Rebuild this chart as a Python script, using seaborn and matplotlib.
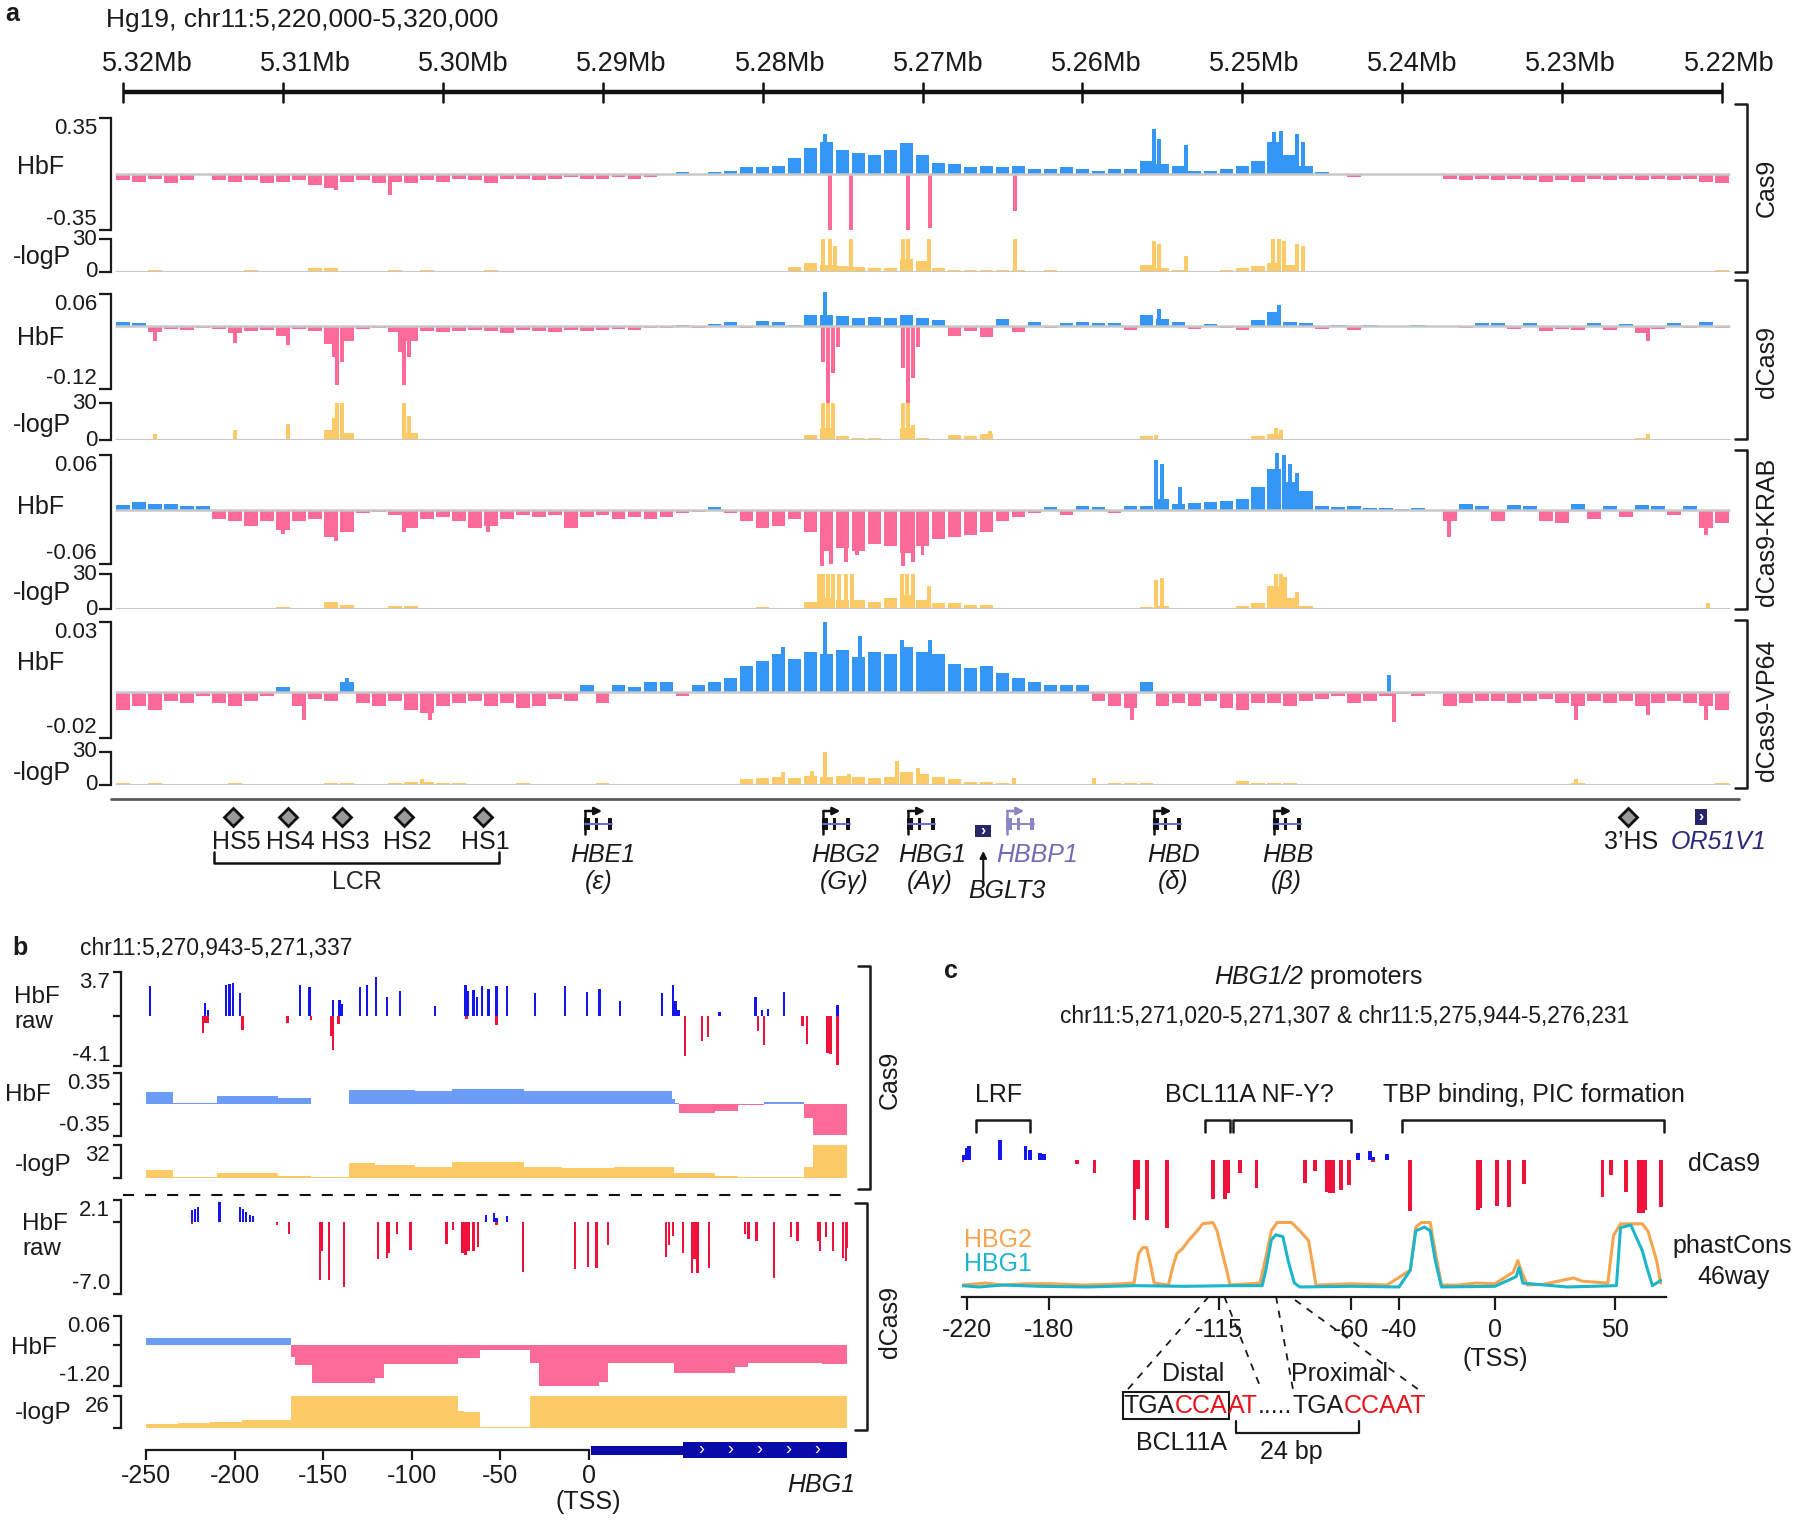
import numpy as np
import matplotlib
matplotlib.use("Agg")
import matplotlib.pyplot as plt
from matplotlib.patches import Rectangle
from matplotlib.transforms import blended_transform_factory
import seaborn as sns

# ---------------- panel a: 1 kb bins, first bin centred on 5.320 Mb ----------------
BIN_START_MB = 5.320
BIN_SIZE_MB = 0.001

cas9_hbf = [-0.04, -0.05, -0.03, -0.06, -0.04, -0.01, -0.04, -0.05, -0.04, -0.06,
            -0.05, -0.04, -0.07, -0.09, -0.05, -0.04, -0.06, -0.05, -0.06, -0.04,
            -0.05, -0.03, -0.04, -0.06, -0.03, -0.03, -0.04, -0.03, -0.02, -0.03,
            -0.03, -0.02, -0.03, -0.02, -0.01, 0.01, 0.0, 0.01, 0.02, 0.04,
            0.04, 0.05, 0.10, 0.16, 0.20, 0.15, 0.13, 0.12, 0.15, 0.19,
            0.12, 0.07, 0.06, 0.04, 0.05, 0.04, 0.05, 0.03, 0.03, 0.04,
            0.03, 0.02, 0.03, 0.03, 0.08, 0.06, 0.05, 0.02, 0.02, 0.03,
            0.05, 0.08, 0.20, 0.12, 0.05, 0.01, 0.0, -0.02, 0.0, 0.0,
            0.0, 0.0, 0.0, -0.03, -0.04, -0.03, -0.04, -0.03, -0.04, -0.05,
            -0.04, -0.05, -0.03, -0.04, -0.03, -0.04, -0.03, -0.04, -0.03, -0.05,
            -0.06]
cas9_hbf_spike_mb = [5.3067, 5.3033, 5.2761, 5.2758, 5.2745, 5.2709, 5.2695, 5.2642,
                     5.2555, 5.2552, 5.2535, 5.2480, 5.2476, 5.2466, 5.2462]
cas9_hbf_spike = [-0.10, -0.13, 0.25, -0.35, -0.35, -0.35, -0.34, -0.23,
                  0.28, 0.22, 0.18, 0.26, 0.27, 0.25, 0.20]
cas9_logp = [1, 0.5, 1.5, 0.5, 0.5, 0, 0.5, 1, 1.5, 1,
             0.5, 0.5, 3, 3.5, 1, 0.5, 1, 2, 1, 1.5,
             0.5, 0.5, 1, 2, 0.5, 0.5, 0.5, 0.5, 0, 0.5,
             0, 0.5, 0, 0, 0, 0, 0, 0, 0, 0.5,
             1, 1, 4, 8, 6, 5, 4, 3, 3, 12,
             10, 3, 2, 2, 2, 2, 1.5, 1, 1.5, 1,
             1, 1, 1, 1, 6, 3, 2, 1, 1, 1.5,
             3, 5, 8, 6, 1, 0.5, 0, 0, 0, 0,
             0, 0, 0, 0, 0, 0, 0, 0, 0, 0,
             1, 1, 0, 0, 0, 0, 0, 0, 0, 0.5,
             1.5]
cas9_logp_spike_mb = [5.2762, 5.2758, 5.2755, 5.2745, 5.2712, 5.2709, 5.2696, 5.2642,
                      5.2555, 5.2552, 5.2535, 5.2481, 5.2477, 5.2474, 5.2466, 5.2462]
cas9_logp_spike = [30, 30, 24, 30, 30, 30, 30, 30, 28, 26, 15, 30, 30, 28, 26, 24]

dcas9_hbf = [0.006, 0.005, -0.012, -0.006, -0.008, -0.004, -0.006, -0.015, -0.01, -0.008,
             -0.02, -0.006, -0.01, -0.035, -0.03, -0.006, -0.005, -0.012, -0.03, -0.01,
             -0.012, -0.01, -0.008, -0.01, -0.014, -0.008, -0.01, -0.012, -0.008, -0.01,
             -0.008, -0.006, -0.008, -0.005, -0.004, 0.002, -0.004, 0.003, 0.006, -0.004,
             0.008, 0.006, 0.002, 0.02, 0.02, 0.018, 0.015, 0.016, 0.014, 0.02,
             0.015, 0.01, -0.02, -0.01, -0.022, 0.012, -0.012, 0.006, -0.004, 0.004,
             0.006, 0.005, 0.004, -0.008, 0.02, 0.012, 0.006, -0.006, 0.003, -0.005,
             -0.008, 0.01, 0.025, 0.006, 0.004, -0.006, 0.002, -0.008, 0.002, -0.003,
             0.0, 0.002, 0.0, -0.003, -0.004, 0.004, 0.005, -0.006, 0.004, -0.01,
             -0.006, -0.008, 0.004, -0.008, 0.003, -0.015, -0.006, 0.004, -0.005, 0.006,
             -0.005]
dcas9_hbf_spike_mb = [5.3180, 5.3130, 5.3097, 5.3068, 5.3066, 5.3063, 5.3027, 5.3024, 5.3021,
                      5.2762, 5.2761, 5.2759, 5.2756, 5.2753, 5.2712, 5.2709, 5.2706, 5.2703,
                      5.2552, 5.2477, 5.2246]
dcas9_hbf_spike = [-0.03, -0.034, -0.037, -0.06, -0.113, -0.07, -0.05, -0.113, -0.06,
                   -0.07, 0.063, -0.155, -0.09, -0.04, -0.08, -0.155, -0.10, -0.04,
                   0.032, 0.039, -0.03]
dcas9_logp = [0.5, 0.5, 1, 0.5, 0.5, 0, 0.5, 1, 0.5, 0.5,
              1, 0.5, 0.5, 8, 6, 0.5, 0.5, 1, 6, 0.5,
              0.5, 0.5, 0.5, 0.5, 1, 0.5, 0.5, 1, 0.5, 0.5,
              0.5, 0.5, 0.5, 0, 0, 0, 0, 0, 0, 0,
              0, 0, 0, 4, 10, 3, 2, 2, 1, 10,
              2, 1, 4, 3, 5, 0.5, 1, 0.5, 0, 0,
              0, 0, 0, 1, 3, 1, 0.5, 0, 0, 0.5,
              0.5, 3, 5, 1, 0.5, 0, 0, 0, 0, 0,
              0, 0, 0, 0, 0, 0, 0, 0, 0, 0,
              0, 0, 0, 0, 0, 2, 0, 0, 0, 1,
              0]
dcas9_logp_spike_mb = [5.3180, 5.3130, 5.3097, 5.3068, 5.3066, 5.3063, 5.3024, 5.3021,
                       5.2762, 5.2759, 5.2756, 5.2712, 5.2709, 5.2706, 5.2658, 5.2554,
                       5.2479, 5.2476, 5.2246]
dcas9_logp_spike = [5, 8, 13, 18, 30, 30, 30, 20, 30, 30, 30, 30, 30, 12, 7, 4, 10, 8, 5]

krab_hbf = [0.005, 0.008, 0.006, 0.006, 0.004, 0.004, -0.01, -0.012, -0.018, -0.012,
            -0.022, -0.012, -0.01, -0.03, -0.025, -0.004, -0.003, -0.006, -0.02, -0.01,
            -0.008, -0.012, -0.02, -0.018, -0.01, -0.006, -0.008, -0.006, -0.02, -0.008,
            -0.006, -0.01, -0.008, -0.01, -0.008, -0.004, -0.003, 0.003, -0.004, -0.012,
            -0.02, -0.018, -0.01, -0.025, -0.045, -0.042, -0.045, -0.038, -0.04, -0.048,
            -0.04, -0.032, -0.03, -0.028, -0.025, -0.012, -0.008, -0.004, 0.003, -0.006,
            0.004, 0.003, -0.004, 0.004, 0.004, 0.012, 0.006, 0.007, 0.008, 0.01,
            0.012, 0.025, 0.045, 0.03, 0.02, 0.004, 0.003, 0.004, 0.002, 0.002,
            0.001, 0.002, 0.0, -0.012, 0.006, 0.004, -0.012, 0.005, 0.004, -0.012,
            -0.015, 0.006, -0.01, 0.004, -0.008, 0.005, 0.004, -0.006, 0.004, -0.02,
            -0.015]
krab_hbf_spike_mb = [5.3100, 5.3067, 5.3024, 5.2972, 5.2763, 5.2757, 5.2748, 5.2741,
                     5.2712, 5.2706, 5.2700, 5.2554, 5.2550, 5.2539, 5.2478, 5.2474,
                     5.2470, 5.2466, 5.2371, 5.2210]
krab_hbf_spike = [-0.027, -0.034, -0.025, -0.025, -0.062, -0.06, -0.058, -0.05,
                  -0.062, -0.058, -0.05, 0.055, 0.05, 0.025, 0.062, 0.06,
                  0.05, 0.04, -0.03, -0.028]
krab_logp = [0.5, 0.5, 0.5, 0.5, 0.5, 0, 0.5, 1, 0.5, 0.5,
             2, 0.5, 0.5, 6, 4, 0.5, 0.5, 3, 3, 0.5,
             0.5, 1, 1.5, 1, 0.5, 0.5, 0.5, 0.5, 0.5, 0.5,
             0.5, 0.5, 0.5, 0.5, 0.5, 0, 0, 0, 0, 0.5,
             2, 1.5, 1, 6, 10, 8, 8, 6, 10, 12,
             8, 5, 5, 4, 4, 1, 0.5, 0, 0, 0,
             0, 0, 0, 0, 2, 3, 1.5, 0, 0, 0,
             3, 5, 20, 10, 3, 0, 0, 0, 0, 0,
             0, 0, 0, 0, 0, 0, 0, 0, 0, 0,
             1, 0, 0, 1, 0, 0, 0, 0, 0, 1,
             0.5]
krab_logp_spike_mb = [5.2765, 5.2762, 5.2759, 5.2756, 5.2752, 5.2748, 5.2744, 5.2713,
                      5.2710, 5.2706, 5.2696, 5.2554, 5.2550, 5.2479, 5.2476, 5.2473,
                      5.2466, 5.2209]
krab_logp_spike = [30, 30, 30, 30, 30, 30, 30, 30, 30, 30, 20, 25, 27, 30, 30, 28, 15, 5]

vp64_hbf = [-0.008, -0.006, -0.008, -0.004, -0.005, -0.002, -0.005, -0.006, -0.004, -0.002,
            0.002, -0.006, -0.003, -0.004, 0.004, -0.005, -0.006, -0.004, -0.008, -0.009,
            -0.006, -0.005, -0.004, -0.006, -0.005, -0.007, -0.006, -0.003, -0.004, 0.003,
            -0.005, 0.003, 0.002, 0.004, 0.004, -0.002, 0.003, 0.004, 0.006, 0.011,
            0.013, 0.016, 0.014, 0.017, 0.016, 0.018, 0.015, 0.017, 0.016, 0.019,
            0.017, 0.016, 0.012, 0.010, 0.011, 0.008, 0.006, 0.004, 0.003, 0.003,
            0.003, -0.004, -0.006, -0.007, 0.004, -0.006, -0.005, -0.006, -0.004, -0.007,
            -0.008, -0.005, -0.005, -0.006, -0.004, -0.003, -0.002, -0.005, -0.004, -0.002,
            -0.001, -0.002, 0.0, -0.006, -0.005, -0.004, -0.004, -0.005, -0.004, -0.003,
            -0.005, -0.006, -0.004, -0.005, -0.004, -0.006, -0.005, -0.004, -0.005, -0.006,
            -0.008]
vp64_hbf_spike_mb = [5.3087, 5.3060, 5.3008, 5.2787, 5.2761, 5.2739, 5.2713, 5.2695,
                     5.2569, 5.2408, 5.2405, 5.2291, 5.2246, 5.2210]
vp64_hbf_spike = [-0.012, 0.006, -0.012, 0.019, 0.030, 0.024, 0.022, 0.022,
                  -0.012, 0.007, -0.013, -0.012, -0.010, -0.012]
vp64_logp = [1.5, 1, 1.5, 1, 1, 0.5, 1, 1.5, 1, 0.5,
             0.5, 1, 0.5, 1.5, 1.5, 0.5, 1, 2, 2.5, 3,
             2, 1.5, 1, 0.5, 0.5, 2, 1, 0.5, 0.5, 0.5,
             1.5, 1, 0.5, 0.5, 0.5, 0, 0, 0, 0, 5,
             6, 7, 6, 8, 7, 8, 7, 6, 7, 12,
             10, 7, 5, 3, 3, 2, 1, 1, 0, 0,
             0, 1, 2, 2, 2, 0.5, 0.5, 1, 1, 1,
             4, 2, 2, 2, 1, 0, 0, 0, 0, 0,
             0, 0, 0, 0, 0.5, 0.5, 0.5, 0.5, 0.5, 0.5,
             1, 2, 0.5, 0.5, 0.5, 0.5, 0.5, 0.5, 0.5, 1,
             2]
vp64_logp_spike_mb = [5.3013, 5.2787, 5.2769, 5.2761, 5.2746, 5.2716, 5.2703, 5.2643, 5.2593, 5.2291]
vp64_logp_spike = [5, 12, 13, 33, 10, 22, 15, 6, 6, 5]

ruler_ticks_mb = [5.32, 5.31, 5.30, 5.29, 5.28, 5.27, 5.26, 5.25, 5.24, 5.23, 5.22]
gene_names = ['HBE1', 'HBG2', 'HBG1', 'HBBP1', 'HBD', 'HBB']
gene_tss_mb = [5.2911, 5.2762, 5.2709, 5.2647, 5.2555, 5.2480]
gene_greek = ['(ε)', '(Gγ)', '(Aγ)', '', '(δ)', '(β)']
hs_names = ['HS5', 'HS4', 'HS3', 'HS2', 'HS1', '3’HS']
hs_mb = [5.3131, 5.3097, 5.3063, 5.3024, 5.2975, 5.2259]
lcr_mb = [5.3143, 5.2965]
bglt3_mb = 5.2662
or51v1_mb = 5.2213

# ---------------- panel b: bp relative to HBG1 TSS ----------------
cas9_raw_pos = [-247.7, -216.8, -215.1, -205, -203, -201, -196.9, -163, -157.8, -144.7,
                -140.8, -139.8, -129.4, -125.5, -120.3, -114.1, -106.6, -87, -69.8, -68.4,
                -65.2, -63.2, -60.6, -56.7, -52.2, -46.3, -30.6, -13.7, -1.3, 5.9,
                17.3, 41.1, 47.6, 48.9, 50.5, 73.7, 93.9, 97.8, 101, 110.2, 140.2,
                -217.8, -216.5, -215.1, -195.6, -170.2, -157.1, -145.7, -144.7, -141.5, -69.1,
                -52.2, 54.1, 63.9, 67.1, 95.5, 98.8, 120.6, 123.2, 134.6, 136.3, 140.2]
cas9_raw_val = [2.5, 1.1, 0.5, 2.6, 2.7, 2.8, 1.9, 2.6, 2.4, 1.4,
                1.4, 1.0, 2.4, 2.6, 3.3, 1.6, 2.1, 0.85, 2.6, 2.1,
                2.2, 1.6, 2.5, 2.3, 2.5, 2.5, 1.9, 2.5, 2.0, 2.3,
                1.3, 1.9, 2.6, 1.3, 0.55, 0.4, 1.6, 0.5, 0.65, 2.0, 0.95,
                -1.35, -0.55, -0.55, -1.1, -0.55, -0.3, -1.6, -2.8, -0.6, -0.2,
                -0.75, -3.3, -2.0, -1.7, -1.2, -2.4, -0.8, -2.3, -3.0, -3.1, -4.0]
cas9_seg_start = [-250, -235, -210, -175.6, -135.3, -98.4, -77.2, -36.5, 46.6, 48.5, 50.8, 71, 84, 98.8, 121.6, 126.5]
cas9_seg_end = [-235, -210, -175.6, -157, -98.4, -77.2, -36.5, 46.6, 48.5, 50.8, 71, 84, 98.8, 121.6, 126.5, 145.5]
cas9_seg_hbf = [0.134, 0.018, 0.097, 0.072, 0.162, 0.148, 0.17, 0.148, 0.06, 0.02, -0.097, -0.072, -0.007, 0.029, -0.15, -0.336]
cas9_lp_start = [-250, -235, -210, -175.6, -157, -135.3, -121, -98.4, -77.2, -36.5, -15.3, 14, 48.2, 71, 84, 121.6, 126.5]
cas9_lp_end = [-235, -210, -175.6, -157, -135.3, -121, -98.4, -77.2, -36.5, -15.3, 14, 48.2, 71, 84, 121.6, 126.5, 145.5]
cas9_lp_val = [8, 1.6, 4.8, 2.2, 1.0, 14.4, 12.8, 11.2, 16, 10.5, 9.6, 11.2, 5.4, 2.2, 1.0, 11, 32]

dcas9_raw_pos = [-224, -222.4, -220.7, -208.6, -196.9, -195.2, -193.6, -191.3, -189.7, -58.3,
                 -53.5, -52.2, -46.3,
                 -224, -176, -169.2, -151.9, -150.6, -146.7, -138.2, -119.3, -114.1, -112.8,
                 -108.2, -100.7, -80.5, -76.6, -71.4, -69.8, -68.1, -65.2, -62.6, -52.2,
                 -37.2, -8.1, -0.7, 4.2, 10.8, 43.4, 45, 47.6, 53.1, 58,
                 59.6, 61.3, 67.8, 88, 90, 94.5, 104.3, 114.1, 117.7, 129.1,
                 130.4, 133.6, 137.9, 143.4, 145, 145.8]
dcas9_raw_val = [1.1, 1.25, 1.4, 1.9, 1.45, 1.2, 0.9, 0.7, 0.55, 0.7,
                 0.8, 0.4, 0.55,
                 -0.2, -0.35, -1.2, -5.6, -2.8, -5.6, -6.3, -3.6, -3.5, -3.0,
                 -1.2, -2.7, -2.1, -0.75, -3.0, -3.2, -2.8, -2.8, -2.4, -0.35,
                 -4.8, -4.6, -4.35, -4.45, -2.2, -3.4, -2.2, -1.4, -3.0, -4.9,
                 -3.6, -4.9, -4.45, -1.2, -1.7, -1.9, -5.4, -1.5, -1.9, -1.9,
                 -2.8, -1.5, -2.8, -3.5, -3.8, -2.5]
dcas9_seg_start = [-250, -168.5, -166.2, -156.1, -120.6, -115.7, -74, -61.6, -33.2, -28.4, 5.9, 10.8, 48.2, 82.5, 90, 131.4]
dcas9_seg_end = [-168.5, -166.2, -156.1, -120.6, -115.7, -74, -61.6, -33.2, -28.4, 5.9, 10.8, 48.2, 82.5, 90, 131.4, 145.5]
dcas9_seg_hbf = [0.2, -0.34, -0.59, -1.10, -0.98, -0.57, -0.37, -0.15, -0.54, -1.20, -1.07, -0.54, -0.81, -0.65, -0.54, -0.57]
dcas9_lp_start = [-250, -232, -214, -196, -168.5, -74, -70.7, -61.6, -33.2]
dcas9_lp_end = [-232, -214, -196, -168.5, -74, -70.7, -61.6, -33.2, 145.5]
dcas9_lp_val = [3.2, 4.3, 5.4, 6.8, 26, 14, 12.9, 0.8, 26]
hbg1_chevron_bp = [63.6, 79.9, 96.2, 112.5, 128.8]

# ---------------- panel c ----------------
c_raw_pos = [-221.4, -220.2, -219, -206.4, -195.6, -193.7, -189.6, -188, -57, -52.2, -51, -45,
             -222, -174.1, -166.9, -150.2, -148.7, -144.9, -136.8, -117.4, -112.6, -111.4,
             -106.4, -99.4, -79, -75, -70, -68.8, -67.6, -64, -60.7, -51,
             -35.4, -7.2, -6.2, 1, 5.8, 12, 44.8, 48.4, 54.6, 59.9, 61.8, 62.7, 69.2]
c_raw_val = [0.46, 1.2, 1.4, 2.0, 1.4, 1.0, 0.65, 0.55, 0.65, 0.85, 0.27, 0.55,
             -0.2, -0.4, -1.3, -6.1, -3.0, -6.1, -6.9, -4.0, -4.0, -3.4,
             -1.3, -2.9, -2.3, -1.1, -3.3, -3.4, -3.4, -3.1, -2.6, -0.25,
             -5.2, -5.1, -4.9, -4.7, -4.8, -2.4, -3.8, -1.5, -3.3, -5.4, -5.4, -5.1, -4.8]
hbg2_x = [-222.3, -212, -205, -195, -185, -172, -160, -150.4, -148.5, -146.8, -145.1, -143.2, -142,
          -136.1, -134.2, -132.5, -130.1, -127.7, -124.1, -121.8, -117.5, -115.8, -114.1, -111.8,
          -110.4, -97.9, -95.5, -93.2, -90.8, -84.8, -81.3, -77.7, -76, -74.6, -60, -45, -35.3,
          -33, -30.6, -27, -24.7, -22.3, -15, -8, 0, 7.6, 9.5, 11.1, 13.5, 20, 32.7, 36.3, 47,
          49.4, 52.3, 61.4, 63.8, 67.4, 69]
hbg2_y = [0.03, 0.06, 0.03, 0.05, 0.05, 0.03, 0.04, 0.06, 0.52, 0.61, 0.61, 0.29, 0.06,
          0.03, 0.32, 0.52, 0.6, 0.72, 0.87, 0.98, 1.0, 0.87, 0.6, 0.26,
          0.03, 0.06, 0.46, 0.87, 1.0, 1.0, 0.87, 0.72, 0.35, 0.03, 0.05, 0.03, 0.26,
          0.93, 1.0, 1.0, 0.5, 0.03, 0.03, 0.06, 0.05, 0.23, 0.41, 0.23, 0.03, 0.04, 0.14, 0.09, 0.06,
          0.8, 0.98, 0.98, 0.86, 0.4, 0.06]
hbg1_x = [-222.3, -215, -205, -190, -170, -150, -130, -110, -97, -95.5, -93.2, -91.3, -88.4,
          -86, -83.6, -81.3, -60, -40, -35.3, -33, -29.4, -27, -24.7, -22.3, 0, 8.8, 10,
          11.6, 30, 50.6, 52.3, 56.6, 58.5, 61.4, 63.3, 65.6, 69]
hbg1_y = [0.02, 0.0, 0.03, 0.01, 0.0, 0.02, 0.01, 0.02, 0.02, 0.26, 0.73, 0.81, 0.78,
          0.38, 0.06, 0.0, 0.01, 0.0, 0.26, 0.87, 0.93, 0.87, 0.38, 0.0, 0.01, 0.16, 0.3,
          0.06, 0.0, 0.02, 0.92, 0.96, 0.8, 0.56, 0.3, 0.02, 0.1]
c_tick_pos = [-220, -186, -115, -60, -40, 0, 50]
c_tick_lab = ['-220', '-180', '-115', '-60', '-40', '0', '50']
motif_names = ['LRF', 'BCL11A', 'NF-Y?', 'TBP']
motif_start = [-216.3, -120.7, -109.3, -38.6]
motif_end = [-193.6, -110.5, -60.2, 70.5]

BLUE, PINK, GOLD = '#3597f5', '#fc6b97', '#fdca68'
RAW_BLUE, RAW_RED = '#1414ee', '#f0123a'
SMB_BLUE = '#6b9cf6'
INK = '#1a1a1a'

sns.set_theme(style='white')
plt.rcParams['font.family'] = ['Liberation Sans', 'DejaVu Sans']

W, H = 1800, 1523
fig = plt.figure(figsize=(W / 100, H / 100), dpi=100)
ann = fig.add_axes([0, 0, 1, 1], zorder=10)
ann.set_xlim(0, W)
ann.set_ylim(H, 0)
ann.set_autoscale_on(False)
ann.axis('off')
ann.patch.set_alpha(0)


def px_axes(x0, y0, x1, y1):
    ax = fig.add_axes([x0 / W, 1 - y1 / H, (x1 - x0) / W, (y1 - y0) / H])
    ax.patch.set_alpha(0)
    for s in ax.spines.values():
        s.set_visible(False)
    ax.set_xticks([])
    ax.set_yticks([])
    ax.grid(False)
    return ax


def bracket(ax, ticks, labels, size=16, length=8.5, pad=1.5, vas=None):
    ax.spines['left'].set_visible(True)
    ax.spines['left'].set_linewidth(1.6)
    ax.spines['left'].set_color(INK)
    ax.set_yticks(ticks)
    labs = ax.set_yticklabels(labels, fontsize=size)
    ax.tick_params(axis='y', left=True, direction='out', length=length, width=1.6,
                   pad=pad, color=INK, labelcolor=INK)
    if vas is None:
        vas = ['top'] + ['center'] * (len(ticks) - 2) + ['bottom']
    for lab, va in zip(labs, vas):
        lab.set_verticalalignment(va)


def txt(x, y, s, size=18, **kw):
    kw.setdefault('ha', 'center')
    kw.setdefault('va', 'center')
    kw.setdefault('color', INK)
    return ann.text(x, y, s, fontsize=size, **kw)


def right_bracket(x, top, bot, label, xl, yl):
    ann.plot([x - 12, x, x, x - 12], [top, top, bot, bot], color=INK, lw=1.8)
    txt(xl, yl, label, rotation=90)


# ======================= panel a =======================
MB_PX = 15990.0                       # pixels per Mb on the figure
XL_A = (5.32 + (123 - 111) / MB_PX, 5.22 - (1735 - 1722) / MB_PX)
bin_mb = BIN_START_MB - BIN_SIZE_MB * np.arange(len(cas9_hbf))
SPIKE_W = 0.00025


def hbf_track(box, vals, smb, sval, lo, hi, labs):
    ax = px_axes(111, box[0], 1735, box[1])
    v = np.asarray(vals)
    ax.bar(bin_mb, v, width=BIN_SIZE_MB * 0.85, color=np.where(v >= 0, BLUE, PINK),
           linewidth=0, clip_on=False)
    s = np.asarray(sval)
    ax.bar(smb, s, width=SPIKE_W, color=np.where(s >= 0, BLUE, PINK), linewidth=0, clip_on=False)
    ax.hlines(0, BIN_START_MB + 0.0005, BIN_START_MB - 0.1005, color='#c8c8c8', lw=1.8, zorder=3)
    ax.set_xlim(XL_A)
    bracket(ax, [hi, lo], labs, length=9, pad=1)
    ax.set_ylim(lo, hi)
    return ax


def logp_track(box, vals, smb, sval):
    ax = px_axes(111, box[0], 1735, box[1])
    ax.bar(bin_mb, vals, width=BIN_SIZE_MB * 0.85, color=GOLD, linewidth=0)
    ax.bar(smb, sval, width=SPIKE_W, color=GOLD, linewidth=0)
    ax.hlines(0, BIN_START_MB + 0.0005, BIN_START_MB - 0.1005, color='#c8c8c8', lw=2.2, zorder=3)
    ax.set_xlim(XL_A)
    bracket(ax, [30, 0], ['30', '0'], length=9, pad=1, vas=['center', 'center'])
    ax.set_ylim(0, 30)
    return ax


ax_a = hbf_track((117.7, 230), cas9_hbf, cas9_hbf_spike_mb, cas9_hbf_spike, -0.35, 0.35, ['0.35', '-0.35'])
logp_track((239.3, 271.7), cas9_logp, cas9_logp_spike_mb, cas9_logp_spike)
hbf_track((294, 388.7), dcas9_hbf, dcas9_hbf_spike_mb, dcas9_hbf_spike, -0.12, 0.06, ['0.06', '-0.12'])
logp_track((403.3, 440), dcas9_logp, dcas9_logp_spike_mb, dcas9_logp_spike)
hbf_track((455, 564.3), krab_hbf, krab_hbf_spike_mb, krab_hbf_spike, -0.06, 0.06, ['0.06', '-0.06'])
logp_track((574.3, 609.3), krab_logp, krab_logp_spike_mb, krab_logp_spike)
hbf_track((621.7, 738.3), vp64_hbf, vp64_hbf_spike_mb, vp64_hbf_spike, -0.02, 0.03, ['0.03', '-0.02'])
logp_track((751.7, 785), vp64_logp, vp64_logp_spike_mb, vp64_logp_spike)

for y in [166.7, 338.3, 506.7, 663.3]:
    txt(41, y, 'HbF')
for y in [256.7, 425, 593.3, 773.3]:
    txt(42, y, '-logP')

right_bracket(1746.7, 104.3, 271.7, 'Cas9', 1767, 188)
right_bracket(1746.7, 280, 439.3, 'dCas9', 1767, 361.7)
right_bracket(1746.7, 450, 609.3, 'dCas9-KRAB', 1767, 531.7)
right_bracket(1746.7, 620, 787.7, 'dCas9-VP64', 1767, 710)

txt(12, 14, 'a', weight='bold')
txt(106, 20, 'Hg19, chr11:5,220,000-5,320,000', size=19, ha='left')

bt = blended_transform_factory(ax_a.transData, ann.transData)
ann.plot([ruler_ticks_mb[0], ruler_ticks_mb[-1]], [92.3, 92.3], color='#111', lw=3.2,
         transform=bt, solid_capstyle='butt')
for k, m in enumerate(ruler_ticks_mb):
    ann.plot([m, m], [83, 102], color='#111', lw=1.8, transform=bt)
    # labels sit a little right of their ticks, drifting slightly across the ruler
    ann.text(m - (24 - 1.7 * k) / MB_PX, 64, f'{m:.2f}Mb', transform=bt, ha='center',
             va='center', fontsize=19.5, color=INK)

ann.plot([111, 1739], [799, 799], color='#5a5a5a', lw=2)


def mbx(mb, dx):
    return mb - dx / MB_PX


gene_lab_dx = [18, 22, 24, 30, 19, 14]
greek_dx = [14, 21, 22, 0, 19, 12]
for name, tss, grk, ldx, gdx in zip(gene_names, gene_tss_mb, gene_greek, gene_lab_dx, greek_dx):
    col = '#8a86c8' if name == 'HBBP1' else '#111'
    body = '#8a86c8' if name == 'HBBP1' else '#6a6ad8'
    ann.plot([tss, tss], [834, 811], color=col, lw=1.8, transform=bt)
    ann.annotate('', xy=(mbx(tss, 17), 811), xytext=(tss, 811), xycoords=bt, textcoords=bt,
                 arrowprops=dict(arrowstyle='-|>', color=col, lw=1.8, mutation_scale=11,
                                 shrinkA=0, shrinkB=0))
    ann.plot([tss, mbx(tss, 27)], [824, 824], color=body, lw=1.4, transform=bt)
    for off, w in [(-1, 6), (10, 3), (23, 4)]:
        ann.add_patch(Rectangle((mbx(tss, off), 818), -w / MB_PX, 12, transform=bt,
                                color=col, lw=0))
    ann.text(mbx(tss, ldx), 855, name, transform=bt, ha='center', va='center', fontsize=18,
             style='italic', color=('#6f6bb5' if name == 'HBBP1' else INK))
    if grk:
        ann.text(mbx(tss, gdx), 882, grk, transform=bt, ha='center', va='center', fontsize=18,
                 style='italic', color=INK)

for name, m in zip(hs_names, hs_mb):
    ann.plot([m], [817], marker='D', ms=9, mfc='#9a9a9a', mec='#111', mew=2, transform=bt)
    ann.text(mbx(m, 3), 842, name, transform=bt, ha='center', va='center', fontsize=18, color=INK)
ann.plot([lcr_mb[0], lcr_mb[0], lcr_mb[1], lcr_mb[1]], [852, 863, 863, 852], color='#111', lw=1.8,
         transform=bt)
ann.text((lcr_mb[0] + lcr_mb[1]) / 2, 882, 'LCR', transform=bt, ha='center', va='center', fontsize=18)

ann.add_patch(Rectangle((mbx(bglt3_mb, -8), 825), -16 / MB_PX, 12, transform=bt, color='#27266b', lw=0))
ann.text(bglt3_mb, 830.5, '›', transform=bt, ha='center', va='center', fontsize=11, color='white',
         weight='bold')
ann.annotate('', xy=(bglt3_mb, 851), xytext=(bglt3_mb, 885), xycoords=bt, textcoords=bt,
             arrowprops=dict(arrowstyle='-|>', color='#111', lw=1.5, mutation_scale=10, shrinkA=0, shrinkB=0))
ann.text(mbx(bglt3_mb, 24), 891, 'BGLT3', transform=bt, ha='center', va='center', fontsize=18,
         style='italic', color=INK)
ann.add_patch(Rectangle((mbx(or51v1_mb, -6), 809), -12 / MB_PX, 16, transform=bt, color='#27266b', lw=0))
ann.text(or51v1_mb, 816.5, '›', transform=bt, ha='center', va='center', fontsize=11, color='white',
         weight='bold')
ann.text(mbx(or51v1_mb, 17), 842, 'OR51V1', transform=bt, ha='center', va='center', fontsize=18,
         style='italic', color='#2b2a78')

# ======================= panel b =======================
XL_B = (-264.2, 146.2)


def raw_bars(ax, pos, val, width):
    v = np.asarray(val)
    ax.bar(pos, v, width=width, color=np.where(v >= 0, RAW_BLUE, RAW_RED), linewidth=0)


def seg_bars(ax, s, e, v, pos_c, neg_c):
    s, e, v = np.asarray(s), np.asarray(e), np.asarray(v)
    ax.bar(s, v, width=e - s, align='edge', color=np.where(v >= 0, pos_c, neg_c), linewidth=0)


b1 = px_axes(121, 971.7, 848, 1066)
raw_bars(b1, cas9_raw_pos, cas9_raw_val, 1.3)
b1.set_xlim(XL_B)
bracket(b1, [3.7, 0, -4.1], ['3.7', '', '-4.1'], length=6, pad=2)
b1.set_ylim(-4.1, 3.7)

b2 = px_axes(121, 1072.7, 848, 1136)
seg_bars(b2, cas9_seg_start, cas9_seg_end, cas9_seg_hbf, SMB_BLUE, PINK)
b2.set_xlim(XL_B)
bracket(b2, [0.35, 0, -0.35], ['0.35', '', '-0.35'], length=6, pad=2)
b2.set_ylim(-0.35, 0.35)

b3 = px_axes(121, 1145, 848, 1178.3)
seg_bars(b3, cas9_lp_start, cas9_lp_end, cas9_lp_val, GOLD, GOLD)
b3.set_xlim(XL_B)
bracket(b3, [32, 0], ['32', ''], length=6, pad=2)
b3.set_ylim(0, 32)

b4 = px_axes(121, 1200, 848, 1294.3)
raw_bars(b4, dcas9_raw_pos, dcas9_raw_val, 1.3)
b4.set_xlim(XL_B)
bracket(b4, [2.1, 0, -7.0], ['2.1', '', '-7.0'], length=6, pad=2)
b4.set_ylim(-7.0, 2.1)

b5 = px_axes(121, 1316, 848, 1386)
seg_bars(b5, dcas9_seg_start, dcas9_seg_end, dcas9_seg_hbf, SMB_BLUE, PINK)
b5.set_xlim(XL_B)
bracket(b5, [0.85, 0, -1.2], ['0.06', '', '-1.20'], length=6, pad=2)
b5.set_ylim(-1.2, 0.85)

b6 = px_axes(121, 1396, 848, 1428.3)
seg_bars(b6, dcas9_lp_start, dcas9_lp_end, dcas9_lp_val, GOLD, GOLD)
b6.set_xlim(XL_B)
bracket(b6, [26, 0], ['26', ''], length=6, pad=2)
b6.set_ylim(0, 26)

bg = px_axes(121, 1436, 848, 1462)
bg.set_xlim(XL_B)
bg.set_ylim(1462, 1436)
bg.spines['bottom'].set_visible(True)
bg.spines['bottom'].set_position(('data', 1450))
bg.spines['bottom'].set_bounds(-250, 0)
bg.spines['bottom'].set_linewidth(1.6)
bg.spines['bottom'].set_color(INK)
bg.set_xticks([-250, -200, -150, -100, -50, 0])
bg.set_xticklabels(['-250', '-200', '-150', '-100', '-50', '0'], fontsize=18)
bg.tick_params(axis='x', bottom=True, direction='out', length=7, width=1.6, pad=3, color=INK,
               labelcolor=INK)
bg.add_patch(Rectangle((1.0, 1445.7), 52.2, 9.3, color='#0a0aa8', lw=0))
bg.add_patch(Rectangle((53.2, 1442.3), 92.2, 16, color='#0a0aa8', lw=0))
for c in hbg1_chevron_bp:
    bg.text(c, 1450, '›', color='white', ha='center', va='center', fontsize=13)

for (x, y, s) in [(37, 997, 'HbF'), (34, 1022, 'raw'), (28, 1095, 'HbF'), (43, 1165, '-logP'),
                  (45, 1224, 'HbF'), (42, 1249, 'raw'), (34, 1348.3, 'HbF'), (43, 1413, '-logP')]:
    txt(x, y, s, size=17.5)
right_bracket(869.7, 966, 1189.3, 'Cas9', 890, 1080)
right_bracket(866.8, 1202.7, 1430, 'dCas9', 890, 1322)
ann.plot([123, 850], [1195, 1195], color='#111', lw=1.5, ls=(0, (5.3, 5.3)))
txt(20, 948, 'b', weight='bold')
txt(80, 948, 'chr11:5,270,943-5,271,337', size=16.5, ha='left')
txt(588, 1502, '(TSS)')
txt(821, 1485, 'HBG1', style='italic')

# ======================= panel c =======================
XC = ((962 - 1495) / 2.4, (1666 - 1495) / 2.4)
c1 = px_axes(962, 1139, 1666, 1229)
raw_bars(c1, c_raw_pos, c_raw_val, 1.6)
c1.set_xlim(XC)
c1.set_ylim(-7.0, 2.1)

c2 = px_axes(962, 1219, 1666, 1296.5)
sns.lineplot(x=hbg2_x, y=hbg2_y, ax=c2, color='#f5a54f', lw=2.2, sort=False, estimator=None)
sns.lineplot(x=hbg1_x, y=hbg1_y, ax=c2, color='#1cb5c9', lw=2.2, sort=False, estimator=None)
c2.set_xlim(XC)
c2.set_ylim(-0.148, 1.054)
c2.spines['bottom'].set_visible(True)
c2.spines['bottom'].set_linewidth(1.6)
c2.spines['bottom'].set_color(INK)
c2.set_xticks(c_tick_pos)
c2.set_xticklabels(c_tick_lab, fontsize=18)
c2.tick_params(axis='x', bottom=True, direction='out', length=9.5, width=1.6, pad=6, color=INK,
               labelcolor=INK)
c2.set_xlabel('')
c2.set_ylabel('')

btc = blended_transform_factory(c1.transData, ann.transData)
for s, e in zip(motif_start, motif_end):
    ann.plot([s, s, e, e], [1132.3, 1119.8, 1119.8, 1132.3], color=INK, lw=1.8, transform=btc)

txt(950.5, 971.4, 'c', weight='bold')
txt(998.7, 1095.4, 'LRF')
txt(1249, 1095.4, 'BCL11A NF-Y?')
txt(1534.3, 1095.4, 'TBP binding, PIC formation')
txt(1345, 1016.5, 'chr11:5,271,020-5,271,307 & chr11:5,275,944-5,276,231', size=16.4)
txt(1723.8, 1163.8, 'dCas9')
txt(1732.4, 1245.8, 'phastCons')
txt(1733.5, 1276.6, '46way')
txt(964.3, 1240, 'HBG2', ha='left', color='#f5a54f')
txt(964.3, 1263.8, 'HBG1', ha='left', color='#1cb5c9')
txt(1495, 1358.6, '(TSS)')
txt(1192.8, 1373.6, 'Distal')
txt(1339.2, 1373.6, 'Proximal')
txt(1181.3, 1443.2, 'BCL11A')
txt(1291.5, 1451.8, '24 bp')
ann.plot([1235.8, 1235.8, 1359.2, 1359.2], [1420.6, 1433, 1433, 1420.6], color=INK, lw=1.6)
for (x0, y0, x1, y1) in [(1208.8, 1296.5, 1126.8, 1390.5), (1224.3, 1296.5, 1261.7, 1390.5),
                         (1276, 1296.5, 1293.2, 1390.5), (1295, 1300, 1422.4, 1392.4)]:
    ann.plot([x0, x1], [y0, y1], color=INK, lw=1.3, ls=(0, (4, 4)))


def text_run(x, y, parts, size, center=False):
    r = fig.canvas.get_renderer()
    ts = [ann.text(0, y, s, color=c, style=st, fontsize=size, ha='left', va='center')
          for s, c, st in parts]
    ws = [t.get_window_extent(r).width for t in ts]
    if center:
        x = x - sum(ws) / 2
    starts = []
    for t, w in zip(ts, ws):
        t.set_x(x)
        starts.append(x)
        x += w
    return starts, ws


text_run(1318, 977, [('HBG1/2', INK, 'italic'), (' promoters', INK, 'normal')], 18, center=True)
RED = '#e8141c'
st, ws = text_run(1124, 1405.6, [('TGA', INK, 'normal'), ('CCA', RED, 'normal'), ('AT', RED, 'normal'),
                                  ('.....', INK, 'normal'), ('TGA', INK, 'normal'),
                                  ('CCAAT', RED, 'normal')], 18)
ann.add_patch(Rectangle((st[0] - 1.5, 1391.6), st[1] + ws[1] - st[0] + 2.5, 27.1, fill=False,
                        edgecolor=INK, lw=1.5))

fig.savefig('out.png', dpi=100)
